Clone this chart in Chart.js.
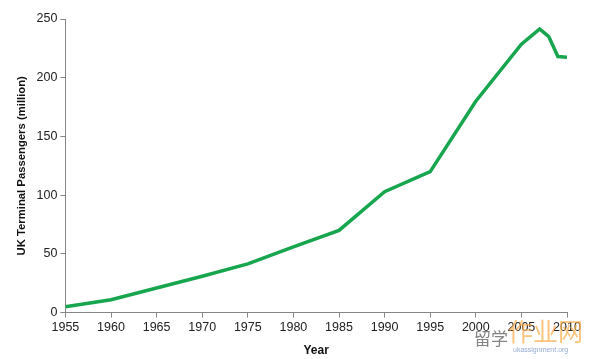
<!DOCTYPE html>
<html>
<head>
<meta charset="utf-8">
<script src="https://cdn.jsdelivr.net/npm/chart.js@4"></script>
<style>
  html, body { margin: 0; padding: 0; background: #fff; }
  #wrap { position: relative; width: 601px; height: 359px; }
  canvas { display: block; }
  .wm { position: absolute; font-family: "Noto Sans CJK SC", sans-serif; pointer-events: none; white-space: nowrap; }
</style>
</head>
<body>
<div id="wrap">
  <canvas id="c" width="601" height="359"></canvas>
  <div class="wm" style="left:474px; top:326px; font-size:17px; color:rgba(110,110,110,0.85); line-height:24px;">留学</div>
  <div class="wm" style="left:508px; top:315px; font-size:25px; color:rgba(250,170,70,0.7); line-height:30px;">作业网</div>
  <div class="wm" style="left:513px; top:346px; font-size:7px; color:rgba(120,150,200,0.8); font-family:'Liberation Sans',sans-serif; line-height:8px;">ukassignment.org</div>
</div>
<script>
const years = [1955, 1960, 1965, 1970, 1975, 1980, 1985, 1990, 1995, 2000, 2005, 2006, 2007, 2008, 2009, 2010];
const passengers = [5, 11, 21, 31, 41.5, 56, 70, 103, 120, 180, 228.5, 235, 241.5, 235, 218, 217.5];
const xTicks = [1955, 1960, 1965, 1970, 1975, 1980, 1985, 1990, 1995, 2000, 2005, 2010];
const yTicks = [0, 50, 100, 150, 200, 250];

const points = years.map((y, i) => ({ x: y, y: passengers[i] }));
const font = { family: "'Liberation Sans', 'DejaVu Sans', sans-serif", size: 12.5 };

new Chart(document.getElementById('c'), {
  type: 'line',
  data: {
    datasets: [{
      data: points,
      borderColor: '#17A54E',
      borderWidth: 3.5,
      pointRadius: 0,
      tension: 0,
      fill: false
    }]
  },
  options: {
    responsive: false,
    animation: false,
    plugins: { legend: { display: false }, tooltip: { enabled: false } },
    layout: { padding: { left: 15, right: 34, top: 19, bottom: 0 } },
    scales: {
      x: {
        type: 'linear',
        min: 1955, max: 2010,
        afterBuildTicks: (s) => { s.ticks = xTicks.map(v => ({ value: v })); },
        grid: { display: true, drawOnChartArea: false, drawTicks: true, tickLength: 5, tickColor: '#868686' },
        border: { display: true, color: '#868686', width: 1 },
        ticks: { color: '#222', font: font, padding: 2, maxRotation: 0, autoSkip: false,
                 callback: v => String(v) },
        title: { display: true, text: 'Year', color: '#111',
                 font: { family: font.family, size: 12, weight: 'bold' }, padding: { top: 7, bottom: 1 } }
      },
      y: {
        min: 0, max: 250,
        afterBuildTicks: (s) => { s.ticks = yTicks.map(v => ({ value: v })); },
        grid: { display: true, drawOnChartArea: false, drawTicks: true, tickLength: 5, tickColor: '#868686' },
        border: { display: true, color: '#868686', width: 1 },
        ticks: { color: '#222', font: font, padding: 3 },
        title: { display: true, text: 'UK Terminal Passengers (million)', color: '#111',
                 font: { family: font.family, size: 11.3, weight: 'bold' }, padding: { top: 0, bottom: 5 } }
      }
    }
  }
});
</script>
</body>
</html>
